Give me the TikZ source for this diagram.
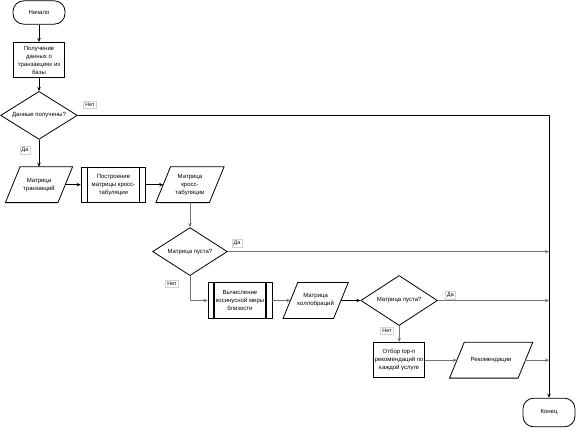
\documentclass[tikz,border=0pt]{standalone}
\usepackage{fontspec}
\setmainfont{Liberation Sans}
\usetikzlibrary{arrows.meta,positioning,shapes.geometric}

\begin{document}
\begin{tikzpicture}[
  x=0.75pt, y=-0.75pt,
  font=\fontsize{4.5}{6}\selectfont,
  term/.style={rectangle, draw, line width=0.6pt, rounded corners=8pt, align=center, minimum width=39pt, minimum height=17.5pt},
  proc/.style={rectangle, draw, line width=0.9pt, align=center, inner sep=1pt, minimum width=38.5pt, minimum height=26.5pt},
  subproc/.style={rectangle, draw, line width=0.6pt, align=center, inner sep=1pt, minimum width=48.5pt, minimum height=26.5pt,
    path picture={\draw[line width=0.9pt]
      ([xshift=4.5pt]path picture bounding box.north west) -- ([xshift=4.5pt]path picture bounding box.south west)
      ([xshift=-4.5pt]path picture bounding box.north east) -- ([xshift=-4.5pt]path picture bounding box.south east);}},
  data/.style={rectangle, align=center, inner sep=1pt, minimum height=26.5pt,
    append after command={\pgfextra{\draw[line width=0.6pt]
      ([xshift=5.5pt]\tikzlastnode.north west) -- ([xshift=5.5pt]\tikzlastnode.north east)
      -- ([xshift=-5.5pt]\tikzlastnode.south east) -- ([xshift=-5.5pt]\tikzlastnode.south west) -- cycle;}}},
  decision/.style={diamond, draw, line width=0.6pt, align=center, inner sep=0pt, aspect=1.6, minimum width=57.5pt, minimum height=36pt},
  answer/.style={rectangle, draw=gray!35, fill=white, inner sep=1.4pt, font=\fontsize{4}{5}\selectfont},
  arrow/.style={-{Stealth[length=3pt,width=2.6pt]}, line width=0.6pt},
  grayarrow/.style={arrow, draw=black!55}
]
\useasboundingbox (0,0) rectangle (577,429);
% main column
\node[term] (start) at (39,12.5) {Начало};
\node[proc, below=13pt of start] (getdata) {Получение\\данных о\\транзакциях из\\базы};
\node[decision, below=9.4pt of getdata] (gotdata) {Данные получены?};
\node[data, minimum width=39pt, below=20.25pt of gotdata] (transmat) {Матрица\\транзакций};
\node[subproc, right=11.6pt of transmat] (buildct) {Построение\\матрицы кросс-\\табуляции};
\node[data, minimum width=39.75pt, right=12.75pt of buildct] (ctmat) {Матрица\\кросс-\\табуляции};
\node[decision, minimum width=56pt, below=18.4pt of ctmat] (ctempty) {Матрица пуста?};
% second row
\node[subproc, minimum width=48pt] (cosine) at (240,300.5) {Вычисление\\косинусной меры\\близости};
\node[data, minimum width=37.5pt, right=13.5pt of cosine] (collmat) {Матрица\\коллобраций};
\node[decision, minimum height=37.5pt, aspect=1.52, right=14.6pt of collmat] (collempty) {Матрица пуста?};
\node[proc, below=12pt of collempty] (topn) {Отбор top-n\\рекомендаций по\\каждой услуге};
\node[data, minimum width=51pt, right=23.6pt of topn] (recs) {Рекомендации};
\node[term, minimum height=21.5pt] (stop) at (549,412.5) {Конец};
% answers
\node[answer] (no1) at (90,104.5) {Нет};
\node[answer] (yes1) at (25,150) {Да};
\node[answer] (yes2) at (237,243) {Да};
\node[answer] (no2) at (172,283.5) {Нет};
\node[answer] (yes3) at (450.5,295) {Да};
\node[answer] (no3) at (387,330.5) {Нет};
% connectors
\draw[arrow] (start) -- (getdata);
\draw[arrow] (getdata) -- (gotdata);
\draw[arrow] (gotdata) -- (transmat);
\draw[arrow] (transmat) -- (buildct);
\draw[arrow] (buildct) -- (ctmat);
\draw[grayarrow] (ctmat) -- (ctempty);
\draw[arrow] (gotdata.east) -- (gotdata.east -| stop) -- (stop.north);
\draw[grayarrow] (ctempty.east) -- (ctempty.east -| stop);
\draw[grayarrow] (ctempty.south) |- (cosine.west);
\draw[grayarrow] (cosine) -- (collmat);
\draw[arrow] (collmat) -- (collempty);
\draw[grayarrow] (collempty.east) -- (collempty.east -| stop);
\draw[grayarrow] (collempty) -- (topn);
\draw[grayarrow] (topn) -- (recs);
\draw[grayarrow] (recs.east) -- (recs.east -| stop);
\end{tikzpicture}
\end{document}
